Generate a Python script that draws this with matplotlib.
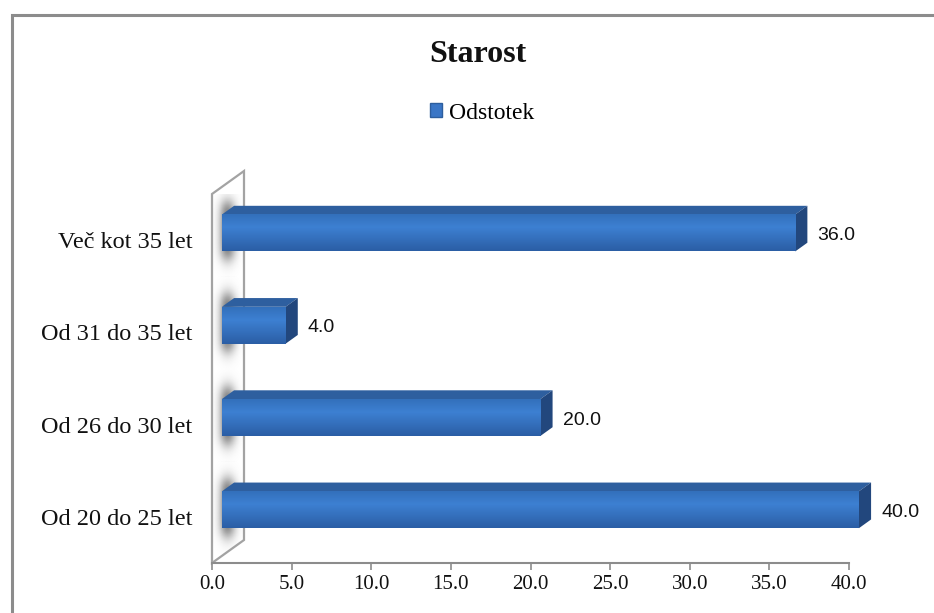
import numpy as np
import matplotlib.pyplot as plt
from matplotlib.patches import Polygon, Patch
from matplotlib.lines import Line2D
from matplotlib.transforms import IdentityTransform, offset_copy
from matplotlib.colors import to_rgb

categories = ['Od 20 do 25 let', 'Od 26 do 30 let', 'Od 31 do 35 let', 'Več kot 35 let']
values = [40.0, 20.0, 4.0, 36.0]
series_name = 'Odstotek'
chart_title = 'Starost'
x_ticks = [0, 5, 10, 15, 20, 25, 30, 35, 40]

SERIF = ['Liberation Serif', 'DejaVu Serif']
SANS = ['Liberation Sans', 'DejaVu Sans']

# oblique depth of the 3-D box, in pixels (right, up)
DEPTH = np.array([32.0, 23.0])
BAR_FRONT, BAR_BACK = 0.31, 0.69
BAR_H = 0.4

front_top, front_mid, front_bot = '#3370bb', '#3d80d2', '#2b5ea5'
top_face = '#2e5f9f'
side_face = '#22477d'
wall_edge = '#a3a3a3'

fig = plt.figure(figsize=(9.34, 6.13), dpi=100)
ax = fig.add_axes([212 / 934, 50 / 613, 637 / 934, 369 / 613])
ax.set_xlim(0, 40)
ax.set_ylim(-0.5, len(categories) - 0.5)
for s in ('left', 'right', 'top'):
    ax.spines[s].set_visible(False)
ax.spines['bottom'].set_color('#8c8c8c')
ax.spines['bottom'].set_linewidth(1.5)
ax.set_xticks(x_ticks)
ax.set_xticklabels([f'{t:.1f}' for t in x_ticks], family=SERIF, fontsize=15, color='#111111')
ax.tick_params(axis='x', direction='out', length=5, width=1.2, color='#8c8c8c', pad=3.5)
ax.set_yticks(range(len(categories)))
ax.set_yticklabels(categories, family=SERIF, fontsize=17.5, color='#111111')
ax.tick_params(axis='y', length=0, pad=14)


def proj(x, y, d):
    px, py = ax.transData.transform((x, y))
    return (px + d * DEPTH[0], py + d * DEPTH[1])


def add_poly(pts, **kw):
    p = Polygon(pts, closed=True, transform=IdentityTransform(), clip_on=False, **kw)
    ax.add_patch(p)
    return p


# side wall
y0, y1 = ax.get_ylim()
wall = add_poly([proj(0, y0, 0), proj(0, y1, 0), proj(0, y1, 1), proj(0, y0, 1)],
                facecolor='white', edgecolor=wall_edge, linewidth=1.6, zorder=1)

# soft shadows of the bars on the wall
sh_tr = offset_copy(ax.transData, fig=fig, x=0, y=9, units='dots')
nx, ny = 40, 120
gx = np.linspace(0, 2.2, nx)
for i in range(len(categories)):
    gy = np.linspace(i - 0.5, i + 0.5, ny)
    X, Y = np.meshgrid(gx, gy)
    hx = np.exp(-((X - 0.95) / 0.5) ** 2)
    d = np.abs(Y - i) - 0.3
    hy = 1 / (1 + np.exp(d / 0.05))
    img = np.zeros((ny, nx, 4))
    img[..., :3] = 0.4
    img[..., 3] = 0.9 * hx * hy
    im = ax.imshow(img, extent=(0, 2.2, i - 0.5, i + 0.5), origin='lower',
                   transform=sh_tr, aspect='auto', zorder=1.5, interpolation='bilinear')
    im.set_clip_path(wall)

# 3-D bars
ct, cm, cb = (np.array(to_rgb(c)) for c in (front_top, front_mid, front_bot))
t = np.linspace(0, 1, 64)[:, None]
grad = np.where(t < 0.35, ct + (cm - ct) * (t / 0.35), cm + (cb - cm) * ((t - 0.35) / 0.65))
grad = grad[:, None, :]
front_tr = offset_copy(ax.transData, fig=fig, x=BAR_FRONT * DEPTH[0], y=BAR_FRONT * DEPTH[1], units='dots')

for i, v in enumerate(values):
    lo, hi = i - BAR_H / 2, i + BAR_H / 2
    add_poly([proj(0, hi, BAR_FRONT), proj(v, hi, BAR_FRONT), proj(v, hi, BAR_BACK), proj(0, hi, BAR_BACK)],
             facecolor=top_face, edgecolor='none', zorder=3)
    add_poly([proj(v, lo, BAR_FRONT), proj(v, hi, BAR_FRONT), proj(v, hi, BAR_BACK), proj(v, lo, BAR_BACK)],
             facecolor=side_face, edgecolor='none', zorder=3)
    ax.imshow(grad, extent=(0, v, lo, hi), origin='upper', transform=front_tr,
              aspect='auto', zorder=4, interpolation='bilinear', clip_on=False)
    ax.annotate(f'{v:.1f}', xy=(v, i), xytext=(32 * 0.72, 4.5 * 0.72), textcoords='offset points',
                ha='left', va='center', family=SANS, fontsize=14, color='#111111')

ax.set_xlim(0, 40)
ax.set_ylim(-0.5, len(categories) - 0.5)

# title and legend
fig.text(478 / 934, 1 - 55 / 613, chart_title, ha='center', va='center',
         family=SERIF, fontsize=23, fontweight='bold', color='#111111')
fig.legend(handles=[Patch(facecolor='#3a76c6', edgecolor='#2d5e9e', label=series_name)],
           loc='center', bbox_to_anchor=(482 / 934, 1 - 113 / 613), frameon=False,
           prop={'family': SERIF, 'size': 17}, handlelength=0.5, handleheight=0.5,
           handletextpad=0.3, borderpad=0)

# outer chart frame (only the top and left edges fall inside the image)
fig.add_artist(Line2D([11.5, 11.5, 934], [0, 613 - 14.5, 613 - 14.5], transform=IdentityTransform(),
                      color='#8c8c8c', linewidth=2.2, solid_joinstyle='miter'))

fig.savefig('out.png', dpi=100)
plt.close(fig)
